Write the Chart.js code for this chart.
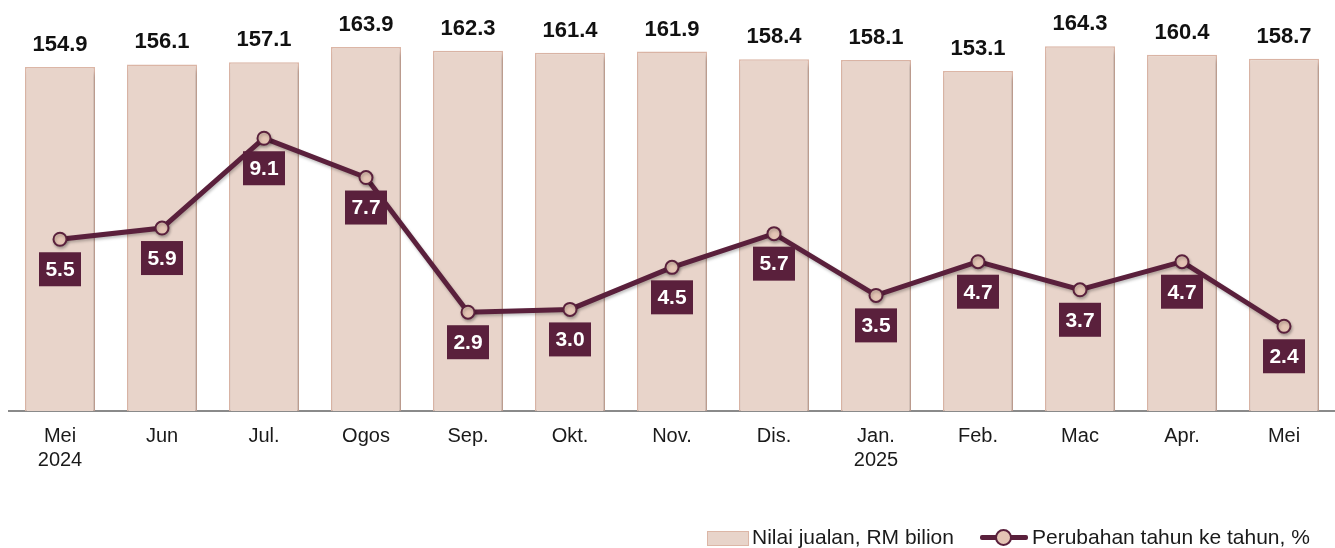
<!DOCTYPE html>
<html>
<head>
<meta charset="utf-8">
<script src="https://cdn.jsdelivr.net/npm/chart.js@4/dist/chart.umd.min.js"></script>
<style>
html,body{margin:0;padding:0;background:#fff;overflow:hidden}
#wrap{position:relative;width:1335px;height:548px}
#c{position:absolute;left:0;top:0}
.lg{position:absolute;font:21px "Liberation Sans",Arial,sans-serif;color:#1a1a1a;line-height:24px;white-space:nowrap}
.sw{position:absolute;left:707px;top:531px;width:40px;height:13px;background:#e8d4ca;border:1px solid #dcb6a6}
.ln{position:absolute;left:980px;top:535px;width:48px;height:5px;background:#5a203c;border-radius:2px}
.dot{position:absolute;left:995px;top:529px;width:13px;height:13px;border-radius:50%;background:#e4c4b4;border:2px solid #5a203c}
</style>
</head>
<body>
<div id="wrap">
<canvas id="c" width="1335" height="548"></canvas>
<div class="sw"></div>
<div class="lg" style="left:752px;top:525px">Nilai jualan, RM bilion</div>
<div class="ln"></div>
<div class="dot"></div>
<div class="lg" style="left:1032px;top:525px">Perubahan tahun ke tahun, %</div>
</div>
<script>
const months = [["Mei","2024"],"Jun","Jul.","Ogos","Sep.","Okt.","Nov.","Dis.",["Jan.","2025"],"Feb.","Mac","Apr.","Mei"]
const salesValue = [154.9,156.1,157.1,163.9,162.3,161.4,161.9,158.4,158.1,153.1,164.3,160.4,158.7]
const yoyChange = [5.5,5.9,9.1,7.7,2.9,3.0,4.5,5.7,3.5,4.7,3.7,4.7,2.4]

const maroon = "#5a203c"

const shadowPlugin = {
id:"shadows",
beforeDatasetDraw(chart,args){
const ctx = chart.ctx
ctx.save()
if(args.index===0){
ctx.shadowColor="rgba(0,0,0,0.3)"
ctx.shadowBlur=5
ctx.shadowOffsetX=2
ctx.shadowOffsetY=4
}else{
ctx.shadowColor="rgba(0,0,0,0.25)"
ctx.shadowBlur=3
ctx.shadowOffsetX=1
ctx.shadowOffsetY=2
}
},
afterDatasetDraw(chart){
chart.ctx.restore()
}
}

const labelPlugin = {
id:"labels",
afterDatasetsDraw(chart){
const ctx = chart.ctx
ctx.save()
ctx.textAlign="center"
ctx.textBaseline="middle"

// bar values
ctx.font='bold 22px "Liberation Sans", Arial, sans-serif'
ctx.fillStyle="#111"
chart.getDatasetMeta(0).data.forEach((bar,i)=>{
ctx.fillText(salesValue[i].toFixed(1),bar.x,bar.y-22)
})

// line value boxes
ctx.font='bold 21px "Liberation Sans", Arial, sans-serif'
chart.getDatasetMeta(1).data.forEach((pt,i)=>{
const cy = pt.y+30
ctx.fillStyle=maroon
ctx.fillRect(pt.x-21,cy-17,42,34)
ctx.fillStyle="#fff"
ctx.fillText(yoyChange[i].toFixed(1),pt.x,cy+1)
})

ctx.restore()
}
}

new Chart(document.getElementById("c"),{
data:{
labels:months,
datasets:[
{
type:"bar",
label:"Nilai jualan, RM bilion",
data:salesValue,
yAxisID:"yBar",
backgroundColor:"#e8d4ca",
borderColor:"#dcb6a6",
borderWidth:1.5,
categoryPercentage:1,
barPercentage:0.686,
order:2
},
{
type:"line",
label:"Perubahan tahun ke tahun, %",
data:yoyChange,
yAxisID:"yLine",
borderColor:maroon,
borderWidth:5,
tension:0,
pointRadius:6.5,
pointBackgroundColor:"#e4c4b4",
pointBorderColor:maroon,
pointBorderWidth:2,
clip:false,
order:1
}
]
},
options:{
responsive:false,
animation:false,
layout:{autoPadding:false,padding:{left:9,right:-6,top:10,bottom:0}},
plugins:{legend:{display:false},tooltip:{enabled:false}},
scales:{
x:{
offset:true,
grid:{display:false,drawTicks:false},
border:{display:true,color:"#8a8a8a",width:2},
ticks:{
color:"#1a1a1a",
padding:13,
maxRotation:0,
autoSkip:false,
font:{family:"'Liberation Sans', Arial, sans-serif",size:20,lineHeight:1.2}
},
afterFit(scale){scale.height=137}
},
yBar:{
display:false,
min:0,
max:180.6
},
yLine:{
display:false,
min:-0.62,
max:13.67
}
}
},
plugins:[shadowPlugin,labelPlugin]
})
</script>
</body>
</html>
